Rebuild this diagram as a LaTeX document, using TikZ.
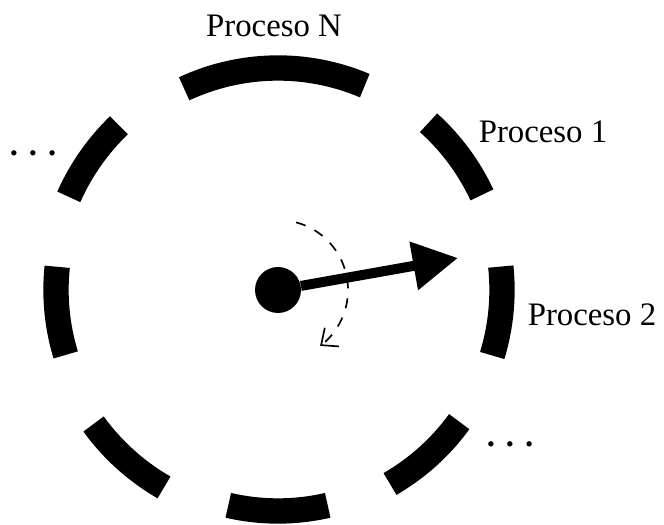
\documentclass[tikz,border=0pt]{standalone}
\usepackage{fontspec}
\setmainfont{Liberation Serif}
\usetikzlibrary{positioning,calc,arrows.meta}

\begin{document}
\begin{tikzpicture}[x=0.3mm,y=0.3mm,
    seg/.style={line width=7.6mm},
    pointer/.style={line width=3mm,-{Triangle[length=13.5mm,width=14mm]}},
    sweep/.style={line width=0.5mm,dash pattern=on 3mm off 3mm,-{Straight Barb[length=4mm,width=7mm]}},
    lbl/.style={font=\fontsize{28}{30}\selectfont,inner sep=0pt}]
  \useasboundingbox (0,0) rectangle (664,525);
  \coordinate (c) at (278,235);
  % the ring of processes
  \foreach \a/\b/\r in {115/67/222, 48/25/225, 6/-17/224, -36/-60/224, -103/-77/221, 216/240/228, 174/197/222, 134/156/229}{
    \draw[seg] ($(c)+(\a:\r)$) arc[start angle=\a, end angle=\b, radius=\r];
  }
  \node[circle,fill,minimum size=13.8mm,inner sep=0pt] (dot) at (c) {};
  \coordinate (tip) at (458,267);
  \draw[sweep] ($(c)+(75:70)$) arc[start angle=75, end angle=-53, radius=70];
  \draw[pointer] (dot) -- (tip);
  % labels
  \node[lbl] (procN) at (274,499) {Proceso N};
  \node[lbl] (proc1) at (543,393) {Proceso 1};
  \node[lbl] (proc2) at (592,210) {Proceso 2};
  \node[lbl,font=\fontsize{28}{30}\selectfont\bfseries,anchor=base] (dotsL) at (33,369) {. . .};
  \node[lbl,font=\fontsize{28}{30}\selectfont\bfseries,anchor=base] (dotsR) at (510,78) {. . .};
\end{tikzpicture}
\end{document}
